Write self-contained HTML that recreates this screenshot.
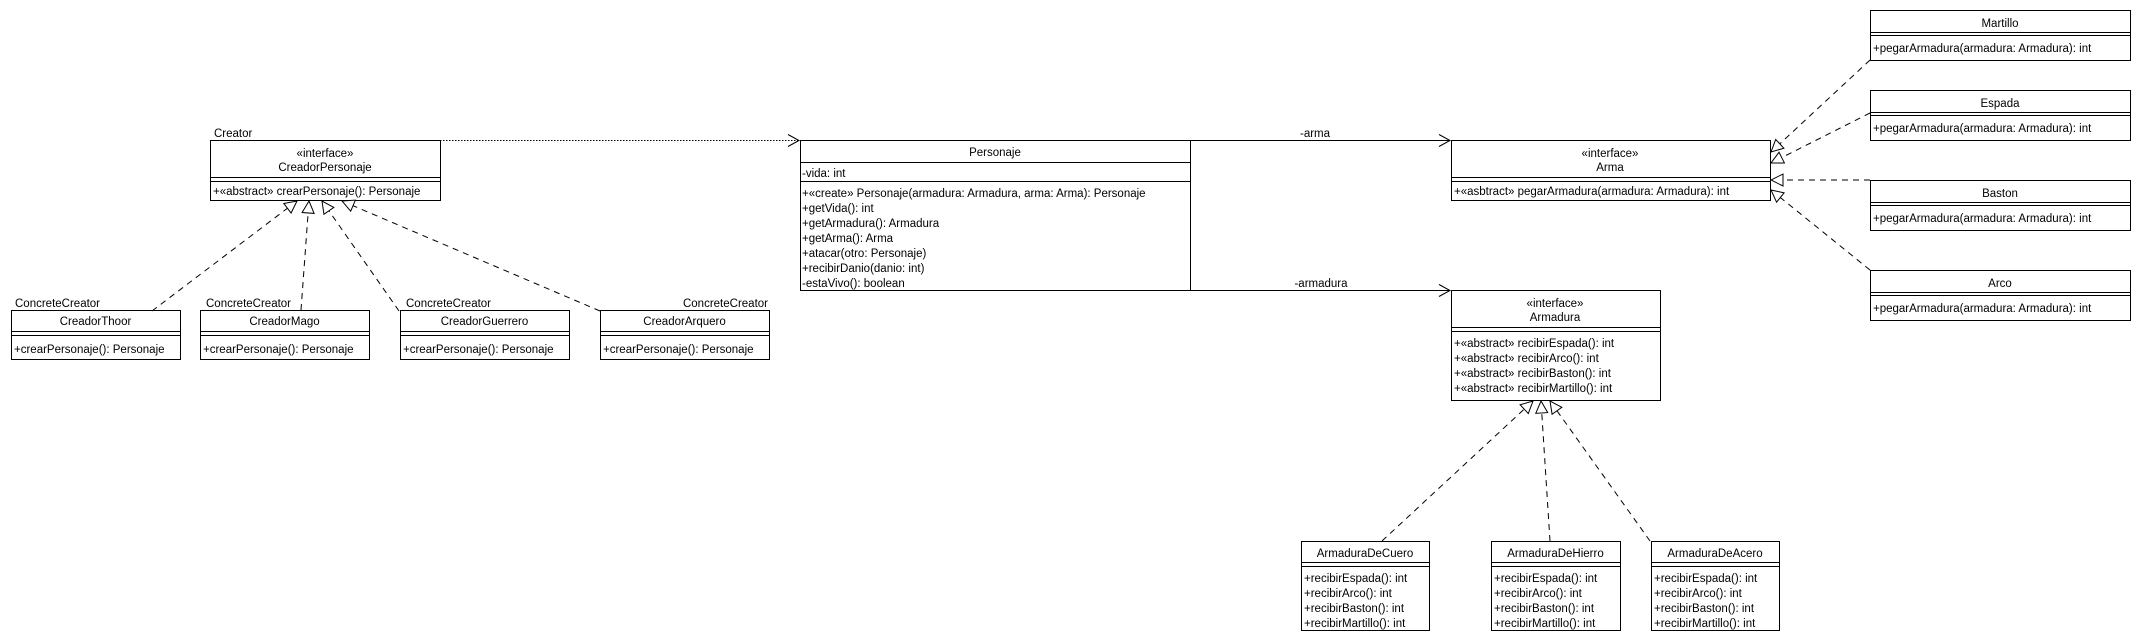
<!DOCTYPE html>
<html><head><meta charset="utf-8"><style>
html,body{margin:0;padding:0;background:#fff;}
svg{display:block;}
text{font-family:"Liberation Sans",sans-serif;font-size:11.5px;fill:#000;}
</style></head><body>
<svg width="2140" height="640" viewBox="0 0 2140 640" xmlns="http://www.w3.org/2000/svg">
<defs>
<marker id="tri" markerUnits="userSpaceOnUse" markerWidth="14" markerHeight="14" refX="12" refY="6" orient="auto" viewBox="-1 -1 14 14">
<path d="M0,0 L12,6 L0,12 Z" fill="#fff" stroke="#000" stroke-width="1"/></marker>
<marker id="open" markerUnits="userSpaceOnUse" markerWidth="14" markerHeight="14" refX="11" refY="6" orient="auto" viewBox="-1 -1 14 14">
<path d="M0,0 L11,6 L0,12" fill="none" stroke="#000" stroke-width="1"/></marker>
</defs>
<g fill="none" stroke="#000" stroke-width="1">
<rect x="210.5" y="140.5" width="230" height="60"/>
<line x1="210" y1="177.5" x2="440" y2="177.5"/><line x1="210" y1="181.5" x2="440" y2="181.5"/>
<rect x="11.5" y="310.5" width="169" height="49"/><line x1="11" y1="331.5" x2="180" y2="331.5"/><line x1="11" y1="335.5" x2="180" y2="335.5"/>
<rect x="200.5" y="310.5" width="169" height="49"/><line x1="200" y1="331.5" x2="369" y2="331.5"/><line x1="200" y1="335.5" x2="369" y2="335.5"/>
<rect x="400.5" y="310.5" width="169" height="49"/><line x1="400" y1="331.5" x2="569" y2="331.5"/><line x1="400" y1="335.5" x2="569" y2="335.5"/>
<rect x="600.5" y="310.5" width="169" height="49"/><line x1="600" y1="331.5" x2="769" y2="331.5"/><line x1="600" y1="335.5" x2="769" y2="335.5"/>
<rect x="800.5" y="140.5" width="390" height="150"/>
<line x1="800" y1="162.5" x2="1190" y2="162.5"/><line x1="800" y1="181.5" x2="1190" y2="181.5"/>
<rect x="1451.5" y="140.5" width="319" height="60"/>
<line x1="1451" y1="177.5" x2="1770" y2="177.5"/><line x1="1451" y1="181.5" x2="1770" y2="181.5"/>
<rect x="1451.5" y="290.5" width="209" height="110"/>
<line x1="1451" y1="327.5" x2="1660" y2="327.5"/><line x1="1451" y1="331.5" x2="1660" y2="331.5"/>
<rect x="1301.5" y="541.5" width="128" height="89"/><line x1="1301" y1="562.5" x2="1429" y2="562.5"/><line x1="1301" y1="566.5" x2="1429" y2="566.5"/>
<rect x="1491.5" y="541.5" width="129" height="89"/><line x1="1491" y1="562.5" x2="1620" y2="562.5"/><line x1="1491" y1="566.5" x2="1620" y2="566.5"/>
<rect x="1651.5" y="541.5" width="128" height="89"/><line x1="1651" y1="562.5" x2="1779" y2="562.5"/><line x1="1651" y1="566.5" x2="1779" y2="566.5"/>
<rect x="1870.5" y="10.5" width="260" height="50"/><line x1="1870" y1="32.5" x2="2130" y2="32.5"/><line x1="1870" y1="35.5" x2="2130" y2="35.5"/>
<rect x="1870.5" y="90.5" width="260" height="50"/><line x1="1870" y1="112.5" x2="2130" y2="112.5"/><line x1="1870" y1="115.5" x2="2130" y2="115.5"/>
<rect x="1870.5" y="180.5" width="260" height="50"/><line x1="1870" y1="202.5" x2="2130" y2="202.5"/><line x1="1870" y1="205.5" x2="2130" y2="205.5"/>
<rect x="1870.5" y="270.5" width="260" height="50"/><line x1="1870" y1="292.5" x2="2130" y2="292.5"/><line x1="1870" y1="295.5" x2="2130" y2="295.5"/>

<line x1="440" y1="140.5" x2="799" y2="140.5" stroke-dasharray="1.5,1.5" marker-end="url(#open)"/>
<line x1="1190" y1="140.5" x2="1450" y2="140.5" marker-end="url(#open)"/>
<line x1="1190" y1="290.5" x2="1450" y2="290.5" marker-end="url(#open)"/>

<g stroke-dasharray="6,5">
<line x1="152" y1="311" x2="297" y2="201" marker-end="url(#tri)"/>
<line x1="301" y1="310" x2="309" y2="201" marker-end="url(#tri)"/>
<line x1="399" y1="311" x2="322" y2="201" marker-end="url(#tri)"/>
<line x1="600" y1="311" x2="342" y2="201" marker-end="url(#tri)"/>
<line x1="1382" y1="541" x2="1533" y2="401" marker-end="url(#tri)"/>
<line x1="1550" y1="541" x2="1541" y2="401" marker-end="url(#tri)"/>
<line x1="1650" y1="541" x2="1550" y2="401" marker-end="url(#tri)"/>
<line x1="1870" y1="60" x2="1771" y2="152" marker-end="url(#tri)"/>
<line x1="1870" y1="113" x2="1771" y2="163" marker-end="url(#tri)"/>
<line x1="1870" y1="180" x2="1771" y2="180" marker-end="url(#tri)"/>
<line x1="1870" y1="270" x2="1771" y2="190" marker-end="url(#tri)"/>
</g>
</g>

<g>
<text x="214" y="137">Creator</text>
<text x="325" y="157" text-anchor="middle">«interface»</text>
<text x="325" y="171" text-anchor="middle">CreadorPersonaje</text>
<text x="213" y="195">+«abstract» crearPersonaje(): Personaje</text>
<text x="15" y="307">ConcreteCreator</text>
<text x="206" y="307">ConcreteCreator</text>
<text x="406" y="307">ConcreteCreator</text>
<text x="768" y="307" text-anchor="end">ConcreteCreator</text>
<text x="95.5" y="325" text-anchor="middle">CreadorThoor</text>
<text x="284.5" y="325" text-anchor="middle">CreadorMago</text>
<text x="484.5" y="325" text-anchor="middle">CreadorGuerrero</text>
<text x="684.5" y="325" text-anchor="middle">CreadorArquero</text>
<text x="14" y="353">+crearPersonaje(): Personaje</text>
<text x="203" y="353">+crearPersonaje(): Personaje</text>
<text x="403" y="353">+crearPersonaje(): Personaje</text>
<text x="603" y="353">+crearPersonaje(): Personaje</text>
<text x="995" y="156" text-anchor="middle">Personaje</text>
<text x="802" y="177">-vida: int</text>
<text x="802" y="197">+«create» Personaje(armadura: Armadura, arma: Arma): Personaje</text>
<text x="802" y="212">+getVida(): int</text>
<text x="802" y="227">+getArmadura(): Armadura</text>
<text x="802" y="242">+getArma(): Arma</text>
<text x="802" y="257">+atacar(otro: Personaje)</text>
<text x="802" y="272">+recibirDanio(danio: int)</text>
<text x="802" y="287">-estaVivo(): boolean</text>
<text x="1315" y="137" text-anchor="middle">-arma</text>
<text x="1321" y="287" text-anchor="middle">-armadura</text>
<text x="1610" y="157" text-anchor="middle">«interface»</text>
<text x="1610" y="171" text-anchor="middle">Arma</text>
<text x="1454" y="195">+«asbtract» pegarArmadura(armadura: Armadura): int</text>
<text x="1555" y="307" text-anchor="middle">«interface»</text>
<text x="1555" y="321" text-anchor="middle">Armadura</text>
<text x="1454" y="347">+«abstract» recibirEspada(): int</text>
<text x="1454" y="362">+«abstract» recibirArco(): int</text>
<text x="1454" y="377">+«abstract» recibirBaston(): int</text>
<text x="1454" y="392">+«abstract» recibirMartillo(): int</text>
<text x="1365" y="557" text-anchor="middle">ArmaduraDeCuero</text>
<text x="1555.5" y="557" text-anchor="middle">ArmaduraDeHierro</text>
<text x="1715" y="557" text-anchor="middle">ArmaduraDeAcero</text>
<text x="1304" y="582">+recibirEspada(): int</text><text x="1304" y="597">+recibirArco(): int</text><text x="1304" y="612">+recibirBaston(): int</text><text x="1304" y="627">+recibirMartillo(): int</text>
<text x="1494" y="582">+recibirEspada(): int</text><text x="1494" y="597">+recibirArco(): int</text><text x="1494" y="612">+recibirBaston(): int</text><text x="1494" y="627">+recibirMartillo(): int</text>
<text x="1654" y="582">+recibirEspada(): int</text><text x="1654" y="597">+recibirArco(): int</text><text x="1654" y="612">+recibirBaston(): int</text><text x="1654" y="627">+recibirMartillo(): int</text>
<text x="2000" y="27" text-anchor="middle">Martillo</text>
<text x="1873" y="52">+pegarArmadura(armadura: Armadura): int</text>
<text x="2000" y="107" text-anchor="middle">Espada</text>
<text x="1873" y="132">+pegarArmadura(armadura: Armadura): int</text>
<text x="2000" y="197" text-anchor="middle">Baston</text>
<text x="1873" y="222">+pegarArmadura(armadura: Armadura): int</text>
<text x="2000" y="287" text-anchor="middle">Arco</text>
<text x="1873" y="312">+pegarArmadura(armadura: Armadura): int</text>
</g>
</svg>
</body></html>
